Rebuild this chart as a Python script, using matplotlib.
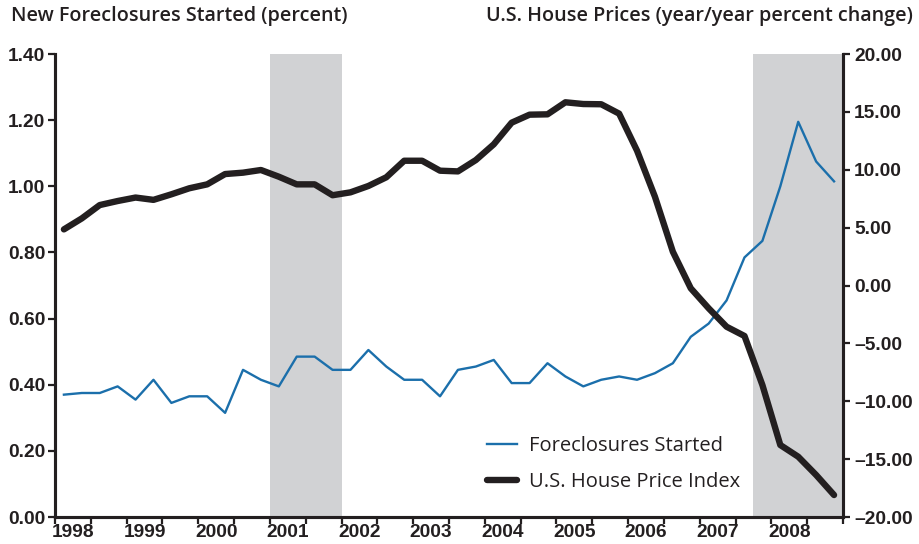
import numpy as np
import matplotlib
matplotlib.use("Agg")
from matplotlib import pyplot as plt

# quarterly data, 1998Q1 .. 2008Q4
years = list(range(1998, 2009))
foreclosures = [0.37, 0.375, 0.375, 0.395, 0.355, 0.415, 0.345, 0.365, 0.365, 0.315,
                0.445, 0.415, 0.395, 0.485, 0.485, 0.445, 0.445, 0.505, 0.455, 0.415,
                0.415, 0.365, 0.445, 0.455, 0.475, 0.405, 0.405, 0.465, 0.425, 0.395,
                0.415, 0.425, 0.415, 0.435, 0.465, 0.545, 0.585, 0.655, 0.785, 0.835,
                1.0, 1.195, 1.075, 1.015]
house_prices = [4.85, 5.8, 6.95, 7.3, 7.6, 7.4, 7.88, 8.4, 8.74, 9.63,
                9.75, 9.98, 9.4, 8.74, 8.74, 7.8, 8.05, 8.6, 9.35, 10.78,
                10.78, 9.92, 9.86, 10.84, 12.2, 14.07, 14.76, 14.79, 15.83, 15.68,
                15.66, 14.85, 11.65, 7.67, 2.92, -0.24, -1.97, -3.56, -4.36, -8.6,
                -13.78, -14.79, -16.37, -18.1]
recessions = [(12, 15), (39, 43)]  # quarter index ranges (shaded)

ink = '#231f20'
blue = '#1b6fab'
shade = '#d1d2d4'

fig = plt.figure(figsize=(9.19, 5.44), dpi=100)
ax = fig.add_axes([0.0598, 0.0496, 0.9173 - 0.0598, 0.9007 - 0.0496])
ax2 = ax.twinx()

x = np.arange(len(foreclosures))
for a, b in recessions:
    ax.axvspan(a - 0.5, b + 0.5, color=shade, lw=0, zorder=0)

ax.plot(x, foreclosures, color=blue, lw=1.7, label='Foreclosures Started', zorder=3)
ax2.plot(x, house_prices, color=ink, lw=4.6, solid_capstyle='round', label='U.S. House Price Index', zorder=3)

ax.set_xlim(-0.5, len(x) - 0.5)
ax.set_ylim(0, 1.4)
ax2.set_ylim(-20, 20)

# ticks
ax.set_yticks(np.arange(0, 1.41, 0.2))
ax.set_yticklabels([f'{v:.2f}' for v in np.arange(0, 1.41, 0.2)])
ticks2 = np.arange(-20, 21, 5)
ax2.set_yticks(ticks2)
ax2.set_yticklabels([(f'{v:.2f}' if v >= 0 else '\u2013' + f'{-v:.2f}') for v in ticks2])

ax.set_xticks(np.arange(-0.5, len(x), 2))
ax.set_xticklabels([])
ax.set_xticks([4 * i + 0.5 for i in range(len(years))], minor=True)
ax.set_xticklabels([str(y) for y in years], minor=True)
ax.tick_params(axis='x', which='minor', length=0, pad=5)

for a in (ax, ax2):
    for s in a.spines.values():
        s.set_color(ink)
        s.set_linewidth(2.2)
    a.spines['top'].set_visible(False)
    a.tick_params(which='major', direction='out', length=5, width=1.6, color=ink)
    for lab in a.get_xticklabels(which='both') + a.get_yticklabels():
        lab.set_fontfamily('Liberation Sans')
        lab.set_fontweight('bold')
        lab.set_fontsize(13.8)
        lab.set_color(ink)
ax.tick_params(axis='y', pad=2)
ax2.tick_params(axis='y', pad=3)

# legend
h1, l1 = ax.get_legend_handles_labels()
h2, l2 = ax2.get_legend_handles_labels()
leg = ax.legend(h1 + h2, l1 + l2, loc='lower left', bbox_to_anchor=(0.525, 0.015),
                frameon=False, handlelength=1.5, handletextpad=0.6, labelspacing=0.8,
                prop={'family': 'Open Sans', 'size': 14.5, 'weight': 'medium'})
for t in leg.get_texts():
    t.set_color(ink)

fig.text(0.012, 0.953, 'New Foreclosures Started (percent)', fontfamily='Open Sans',
         fontweight='semibold', fontsize=14.2, color=ink, va='bottom')
fig.text(0.993, 0.953, 'U.S. House Prices (year/year percent change)', fontfamily='Open Sans',
         fontweight='semibold', fontsize=14.2, color=ink, va='bottom', ha='right')

fig.savefig('out.png', dpi=100)
